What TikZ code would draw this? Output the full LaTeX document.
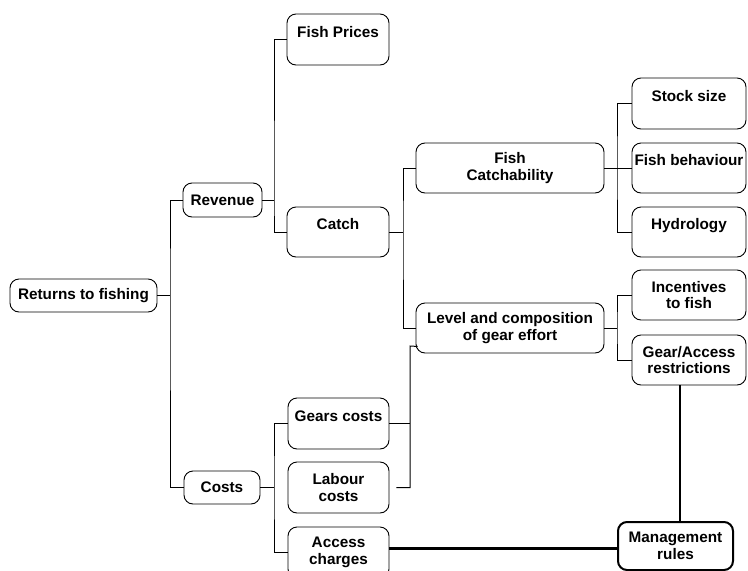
\documentclass[tikz,border=0pt]{standalone}
\usepackage{fontspec}
\setmainfont{Liberation Sans}
\begin{document}
\begin{tikzpicture}[x=1pt,y=-1pt,
  box/.style={draw, line width=0.9pt, rounded corners=9pt, inner sep=0pt, align=center,
    font=\fontsize{15.3}{16.5}\selectfont\bfseries},
  topline/.style={text height=11pt, text depth=16pt},
  conn/.style={line width=1pt},
  mline/.style={line width=2.2pt}]
\useasboundingbox (0,0) rectangle (748,571);
\clip (0,0) rectangle (748,571);
% nodes
\node[box, minimum width=147pt, minimum height=33pt] (ret) at (83.5,295.5) {Returns to fishing};
\node[box, minimum width=79pt, minimum height=34pt] (rev) at (222.5,200) {Revenue};
\node[box, minimum width=76pt, minimum height=33pt] (cost) at (222,487.5) {Costs};
\node[box, topline, minimum width=102pt, minimum height=51pt] (prices) at (338,39.5) {Fish Prices};
\node[box, topline, minimum width=102pt, minimum height=50pt] (catch) at (338,232) {Catch};
\node[box, minimum width=188pt, minimum height=50pt] (catchab) at (510,168) {Fish\\Catchability};
\node[box, minimum width=188pt, minimum height=50pt] (level) at (510,328) {Level and composition\\of gear effort};
\node[box, topline, minimum width=114pt, minimum height=51pt] (stock) at (689,103.5) {Stock size};
\node[box, topline, minimum width=114pt, minimum height=50pt] (behav) at (689,168) {Fish behaviour};
\node[box, topline, minimum width=114pt, minimum height=50pt] (hydro) at (689,232) {Hydrology};
\node[box, minimum width=114pt, minimum height=50pt] (incent) at (689,295) {Incentives\\to fish};
\node[box, minimum width=114pt, minimum height=50pt] (gear) at (689,360) {Gear/Access\\restrictions};
\node[box, topline, minimum width=101pt, minimum height=51pt] (gcost) at (338.5,423.5) {Gears costs};
\node[box, minimum width=101pt, minimum height=51pt] (lcost) at (338.5,487.5) {Labour\\costs};
\node[box, minimum width=101pt, minimum height=51pt] (access) at (338.5,552.5) {Access\\charges};
\node[box, line width=2pt, minimum width=115pt, minimum height=48pt] (mgmt) at (675.5,546) {Management\\rules};
% junctions
\coordinate (j1) at (170,295.5);
\coordinate (j2) at (274,200);
\coordinate (j3) at (403,232);
\coordinate (j4) at (617,168);
\coordinate (j5) at (617,328);
\coordinate (j6) at (274,487.5);
\coordinate (k) at (410,346);
% connectors
\draw[conn] (ret.east) -- (j1);
\draw[conn] (rev.west) -| (j1) |- (cost.west);
\draw[conn] (rev.east) -- (j2);
\draw[conn] (prices.west) -| (j2) |- (catch.west);
\draw[conn] (catch.east) -- (j3);
\draw[conn] (catchab.west) -| (j3) |- (level.west);
\draw[conn] (catchab.east) -- (j4);
\draw[conn] (stock.west) -| (j4) |- (hydro.west);
\draw[conn] (j4) -- (behav.west);
\draw[conn] (level.east) -- (j5);
\draw[conn] (incent.west) -| (j5) |- (gear.west);
\draw[conn] (cost.east) -- (j6);
\draw[conn] (gcost.west) -| (j6) |- (access.west);
\draw[conn] ([xshift=7pt]lcost.east) -| (k) -- ([xshift=2pt,yshift=7pt]level.south west);
\draw[conn] (gcost.east) -- (gcost.east -| k);
\draw[mline] ([xshift=-9pt]gear.south) -- ([xshift=-9pt]gear.south |- mgmt.north);
\draw[mline] ([yshift=4pt]access.east) -- ([yshift=4pt]access.east -| mgmt.west);
\end{tikzpicture}
\end{document}
